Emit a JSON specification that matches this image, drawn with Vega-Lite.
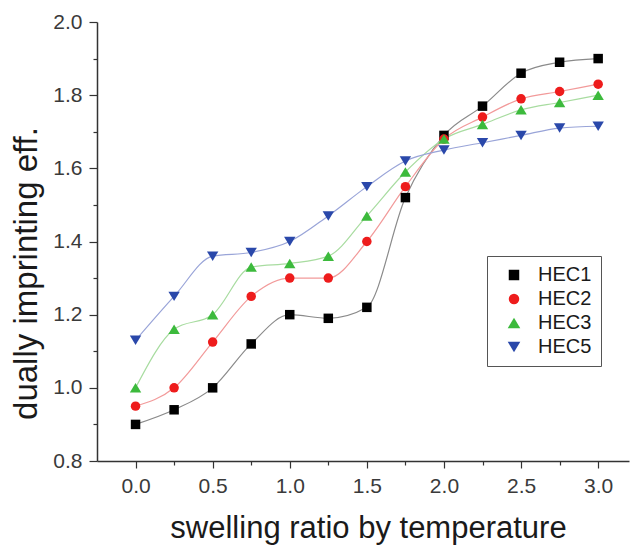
{
  "$schema": "https://vega.github.io/schema/vega-lite/v6.json",
  "autosize": "none",
  "width": 532,
  "height": 439,
  "padding": {"left": 97, "top": 22, "right": 4, "bottom": 84},
  "background": "white",
  "config": {
    "font": "Liberation Sans",
    "view": {"stroke": null},
    "axis": {"grid": false, "domainColor": "#333333", "tickColor": "#333333", "labelColor": "#3a3a3a", "titleColor": "#1a1a1a", "labelFont": "Liberation Sans", "titleFont": "Liberation Sans", "titleFontWeight": "normal", "labelFontSize": 21}
  },
  "data": {
    "values": [
      {"x": 0.0, "s": "HEC1", "y": 0.90}, {"x": 0.25, "s": "HEC1", "y": 0.94}, {"x": 0.5, "s": "HEC1", "y": 1.00}, {"x": 0.75, "s": "HEC1", "y": 1.12}, {"x": 1.0, "s": "HEC1", "y": 1.20}, {"x": 1.25, "s": "HEC1", "y": 1.19}, {"x": 1.5, "s": "HEC1", "y": 1.22}, {"x": 1.75, "s": "HEC1", "y": 1.52}, {"x": 2.0, "s": "HEC1", "y": 1.69}, {"x": 2.25, "s": "HEC1", "y": 1.77}, {"x": 2.5, "s": "HEC1", "y": 1.86}, {"x": 2.75, "s": "HEC1", "y": 1.89}, {"x": 3.0, "s": "HEC1", "y": 1.90},
      {"x": 0.0, "s": "HEC2", "y": 0.95}, {"x": 0.25, "s": "HEC2", "y": 1.00}, {"x": 0.5, "s": "HEC2", "y": 1.125}, {"x": 0.75, "s": "HEC2", "y": 1.25}, {"x": 1.0, "s": "HEC2", "y": 1.30}, {"x": 1.25, "s": "HEC2", "y": 1.30}, {"x": 1.5, "s": "HEC2", "y": 1.40}, {"x": 1.75, "s": "HEC2", "y": 1.55}, {"x": 2.0, "s": "HEC2", "y": 1.68}, {"x": 2.25, "s": "HEC2", "y": 1.74}, {"x": 2.5, "s": "HEC2", "y": 1.79}, {"x": 2.75, "s": "HEC2", "y": 1.81}, {"x": 3.0, "s": "HEC2", "y": 1.83},
      {"x": 0.0, "s": "HEC3", "y": 1.00}, {"x": 0.25, "s": "HEC3", "y": 1.16}, {"x": 0.5, "s": "HEC3", "y": 1.20}, {"x": 0.75, "s": "HEC3", "y": 1.33}, {"x": 1.0, "s": "HEC3", "y": 1.34}, {"x": 1.25, "s": "HEC3", "y": 1.36}, {"x": 1.5, "s": "HEC3", "y": 1.47}, {"x": 1.75, "s": "HEC3", "y": 1.59}, {"x": 2.0, "s": "HEC3", "y": 1.68}, {"x": 2.25, "s": "HEC3", "y": 1.72}, {"x": 2.5, "s": "HEC3", "y": 1.76}, {"x": 2.75, "s": "HEC3", "y": 1.78}, {"x": 3.0, "s": "HEC3", "y": 1.80},
      {"x": 0.0, "s": "HEC5", "y": 1.13}, {"x": 0.25, "s": "HEC5", "y": 1.25}, {"x": 0.5, "s": "HEC5", "y": 1.36}, {"x": 0.75, "s": "HEC5", "y": 1.37}, {"x": 1.0, "s": "HEC5", "y": 1.40}, {"x": 1.25, "s": "HEC5", "y": 1.47}, {"x": 1.5, "s": "HEC5", "y": 1.55}, {"x": 1.75, "s": "HEC5", "y": 1.62}, {"x": 2.0, "s": "HEC5", "y": 1.65}, {"x": 2.25, "s": "HEC5", "y": 1.67}, {"x": 2.5, "s": "HEC5", "y": 1.69}, {"x": 2.75, "s": "HEC5", "y": 1.71}, {"x": 3.0, "s": "HEC5", "y": 1.715}
    ]
  },
  "encoding": {
    "x": {
      "field": "x", "type": "quantitative",
      "scale": {"domain": [-0.25, 3.2], "nice": false, "zero": false},
      "axis": {
        "title": "swelling ratio by temperature", "titleFontSize": 31,
        "titleX": 271, "titleY": 76, "titleAlign": "center", "titleBaseline": "alphabetic",
        "values": [0, 0.25, 0.5, 0.75, 1, 1.25, 1.5, 1.75, 2, 2.25, 2.5, 2.75, 3],
        "labelExpr": "round(datum.value*4) % 2 == 0 ? format(datum.value, '.1f') : ''",
        "labelFontSize": 21, "labelPadding": 7, "domainWidth": 1.5, "tickWidth": 1.2,
        "tickSize": {"condition": {"test": "round(datum.value*4) % 2 == 0", "value": 7}, "value": 4}
      }
    },
    "y": {
      "field": "y", "type": "quantitative",
      "scale": {"domain": [0.8, 2.0], "nice": false, "zero": false},
      "axis": {
        "title": "dually imprinting eff.", "titleFontSize": 33,
        "titleX": -61, "titleY": 251, "titleAlign": "center", "titleBaseline": "alphabetic",
        "values": [0.8, 0.9, 1.0, 1.1, 1.2, 1.3, 1.4, 1.5, 1.6, 1.7, 1.8, 1.9, 2.0],
        "labelExpr": "round(datum.value*10) % 2 == 0 ? format(datum.value, '.1f') : ''",
        "labelFontSize": 21, "labelPadding": 7, "domainWidth": 1.5, "tickWidth": 1.2,
        "tickSize": {"condition": {"test": "round(datum.value*10) % 2 == 0", "value": 8}, "value": 4}
      }
    }
  },
  "layer": [
    {
      "transform": [{"filter": "datum.s == 'HEC1'"}],
      "mark": {"type": "line", "interpolate": "monotone", "strokeWidth": 1.2, "color": "#8a8a8a"},
      "encoding": {}
    },
    {
      "transform": [{"filter": "datum.s == 'HEC2'"}],
      "mark": {"type": "line", "interpolate": "monotone", "strokeWidth": 1.2, "color": "#f29a9a"},
      "encoding": {}
    },
    {
      "transform": [{"filter": "datum.s == 'HEC3'"}],
      "mark": {"type": "line", "interpolate": "monotone", "strokeWidth": 1.2, "color": "#a8dca0"},
      "encoding": {}
    },
    {
      "transform": [{"filter": "datum.s == 'HEC5'"}],
      "mark": {"type": "line", "interpolate": "monotone", "strokeWidth": 1.2, "color": "#99a4d8"},
      "encoding": {}
    },
    {
      "mark": {"type": "point", "filled": true, "opacity": 1, "size": 90},
      "encoding": {
        "color": {"field": "s", "type": "nominal",
          "scale": {"domain": ["HEC1", "HEC2", "HEC3", "HEC5"], "range": ["#000000", "#ee1c1c", "#3cba3c", "#2a48aa"]},
          "legend": {
            "title": null, "orient": "none", "legendX": 390, "legendY": 234,
            "labelFontSize": 20, "labelColor": "#1a1a1a", "symbolSize": 110, "rowPadding": 4,
            "strokeColor": "#555555", "padding": 9, "symbolOffset": 8, "labelOffset": 14
          }
        },
        "shape": {"field": "s", "type": "nominal",
          "scale": {"domain": ["HEC1", "HEC2", "HEC3", "HEC5"], "range": ["square", "circle", "M0,-1L1.2,1L-1.2,1Z", "M0,1L1.2,-1L-1.2,-1Z"]},
          "legend": {
            "title": null, "orient": "none", "legendX": 390, "legendY": 234,
            "labelFontSize": 20, "labelColor": "#1a1a1a", "symbolSize": 110, "rowPadding": 4,
            "strokeColor": "#555555", "padding": 9, "symbolOffset": 8, "labelOffset": 14
          }
        }
      }
    }
  ]
}
